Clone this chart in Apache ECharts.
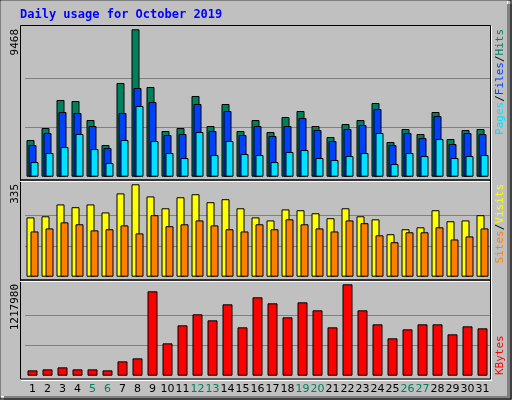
<!DOCTYPE html>
<html>
<head>
<meta charset="utf-8">
<script src="https://cdn.jsdelivr.net/npm/echarts@6/dist/echarts.min.js"></script>
<style>
  html, body { margin: 0; padding: 0; background: #c0c0c0; }
  #chart { width: 512px; height: 400px; }
</style>
</head>
<body>
<div id="chart"></div>
<script>
// Data
var days = ['1','2','3','4','5','6','7','8','9','10','11','12','13','14','15','16',
  '17','18','19','20','21','22','23','24','25','26','27','28','29','30','31'];
var weekends = ['5','6','12','13','19','20','26','27'];
var hits = [2356,3127,4927,4862,3641,2035,6019,9468,5762,2935,3127,5184,3256,4670,2935,3641,
  2870,3834,4220,3256,2549,3384,3641,4734,2228,3063,2742,4155,2420,2999,3063];
var files = [2035,2806,4155,4091,3256,1842,4091,5698,4798,2678,2742,4670,2935,4220,2678,3256,
  2613,3256,3770,2999,2292,3063,3320,4348,2035,2806,2485,3898,2099,2806,2742];
var pages = [942,1521,1906,2742,1778,878,2356,4541,2292,1521,1200,2870,1392,2292,1457,1392,
  942,1585,1714,1200,1071,1328,1521,2806,814,1521,1328,2420,1200,1328,1392];
var sites = [215,219,262,252,262,233,302,335,291,248,288,299,270,281,248,215,
  204,244,241,230,212,248,219,208,154,172,179,241,201,204,223];
var visits = [164,175,197,190,168,172,186,157,223,183,190,204,186,172,164,190,
  172,208,190,175,164,204,194,150,125,161,161,179,135,146,175];
var kbytes = [71120,84455,111125,84455,84455,71120,191135,231140,1124585,431165,671195,817880,
  737870,951230,644525,1044575,964565,777875,977900,871220,644525,1217980,871220,684530,
  497840,617855,684530,684530,551180,657860,631190];
var maxHits = 9468, maxSites = 335, maxKbytes = 1217980;

var chart = echarts.init(document.getElementById('chart'), null, {renderer: 'canvas'});

var gridLine = {show: true, lineStyle: {color: ['transparent', '#808080', '#808080', 'transparent'], width: 1}};
function yAxis(idx, max) {
  return {gridIndex: idx, type: 'value', min: 0, max: max, interval: max / 3,
    axisLabel: {show: false}, axisLine: {show: false}, axisTick: {show: false}, splitLine: gridLine};
}
function xAxis(idx, labels) {
  return {gridIndex: idx, type: 'category', data: days,
    axisLine: {show: false}, axisTick: {show: false},
    axisLabel: {show: labels, interval: 0, margin: 8, fontFamily: 'DejaVu Sans', fontSize: 11,
      formatter: function (d) { return weekends.indexOf(d) >= 0 ? '{w|' + d + '}' : '{n|' + d + '}'; },
      rich: {w: {color: '#00805c', fontSize: 11}, n: {color: '#000', fontSize: 11}}}};
}
function bar(idx, data, color, width, gap) {
  return {type: 'bar', xAxisIndex: idx, yAxisIndex: idx, data: data, barWidth: width, barGap: gap,
    itemStyle: {color: color, borderColor: '#000', borderWidth: 1}, silent: true, animation: false};
}
function vtext(x, y, rich, str) {
  return {type: 'text', x: x, y: y, rotation: Math.PI / 2,
    style: {text: str, rich: rich, font: '11px DejaVu Sans Mono', fill: '#000', align: 'right', verticalAlign: 'middle'}};
}

var option = {
  backgroundColor: '#c0c0c0',
  animation: false,
  grid: [
    {left: 25, width: 465, top: 29.3, height: 147.4},
    {left: 25, width: 465, top: 184.3, height: 92.4},
    {left: 25, width: 465, top: 284.3, height: 91.4}
  ],
  xAxis: [xAxis(0, false), xAxis(1, false), xAxis(2, true)],
  yAxis: [yAxis(0, maxHits), yAxis(1, maxSites), yAxis(2, maxKbytes)],
  series: [
    bar(0, hits, '#00805c', 8, '-75%'),
    bar(0, files, '#0040ff', 8, '-75%'),
    bar(0, pages, '#00e0ff', 8, '-75%'),
    bar(1, sites, '#ffff00', 8, '-50%'),
    bar(1, visits, '#ff8000', 8, '-50%'),
    bar(2, kbytes, '#ff0000', 10, '0%')
  ],
  graphic: [
    // outer bevel
    {type: 'rect', shape: {x: 0.5, y: 0.5, width: 507, height: 396}, style: {fill: 'none', stroke: '#ffffff', lineWidth: 1}, z: -1},
    {type: 'rect', shape: {x: 507, y: 4, width: 5, height: 396}, style: {fill: '#808080'}, z: 10},
    {type: 'rect', shape: {x: 4, y: 396, width: 508, height: 4}, style: {fill: '#808080'}, z: 10},
    {type: 'rect', shape: {x: 0, y: 0, width: 511, height: 399}, style: {fill: 'none', stroke: '#000', lineWidth: 1}, z: 10},
    // panel frames
    {type: 'rect', shape: {x: 20.5, y: 25.5, width: 470, height: 154.5}, style: {fill: 'none', stroke: '#000', lineWidth: 1}, z: 5},
    {type: 'rect', shape: {x: 20.5, y: 180, width: 470, height: 100}, style: {fill: 'none', stroke: '#000', lineWidth: 1}, z: 5},
    {type: 'rect', shape: {x: 20.5, y: 280, width: 470, height: 99}, style: {fill: 'none', stroke: '#000', lineWidth: 1}, z: 5},
    {type: 'polyline', shape: {points: [[20, 181.5], [490, 181.5]]}, style: {stroke: '#fff', lineWidth: 1}, z: 5},
    {type: 'polyline', shape: {points: [[20, 281.5], [490, 281.5]]}, style: {stroke: '#fff', lineWidth: 1}, z: 5},
    {type: 'polyline', shape: {points: [[21, 380.5], [492, 380.5]]}, style: {stroke: '#fff', lineWidth: 1}, z: 5},
    {type: 'polyline', shape: {points: [[491.5, 26], [491.5, 380]]}, style: {stroke: '#fff', lineWidth: 1}, z: 5},
    // title
    {type: 'text', x: 20, y: 9, style: {text: 'Daily usage for October 2019', font: 'bold 12px DejaVu Sans Mono', fill: '#0000ff'}},
    // max value labels
    vtext(15, 29, null, String(maxHits)),
    vtext(15, 184, null, String(maxSites)),
    vtext(15, 284, null, String(maxKbytes)),
    // legends
    vtext(500, 29, {p: {fill: '#00e0ff'}, f: {fill: '#0040ff'}, h: {fill: '#00805c'}, s: {fill: '#000'}},
      '{p|Pages}{s|/}{f|Files}{s|/}{h|Hits}'),
    vtext(500, 184, {v: {fill: '#ff8000'}, y: {fill: '#ffff00'}, s: {fill: '#000'}},
      '{v|Sites}{s|/}{y|Visits}'),
    vtext(500, 284, null, '').constructor === Object ? {type: 'text', x: 500, y: 375, rotation: Math.PI / 2,
      style: {text: 'KBytes', font: '11px DejaVu Sans Mono', fill: '#ff0000', align: 'left', verticalAlign: 'middle'}} : null
  ]
};
chart.setOption(option);
</script>
</body>
</html>
